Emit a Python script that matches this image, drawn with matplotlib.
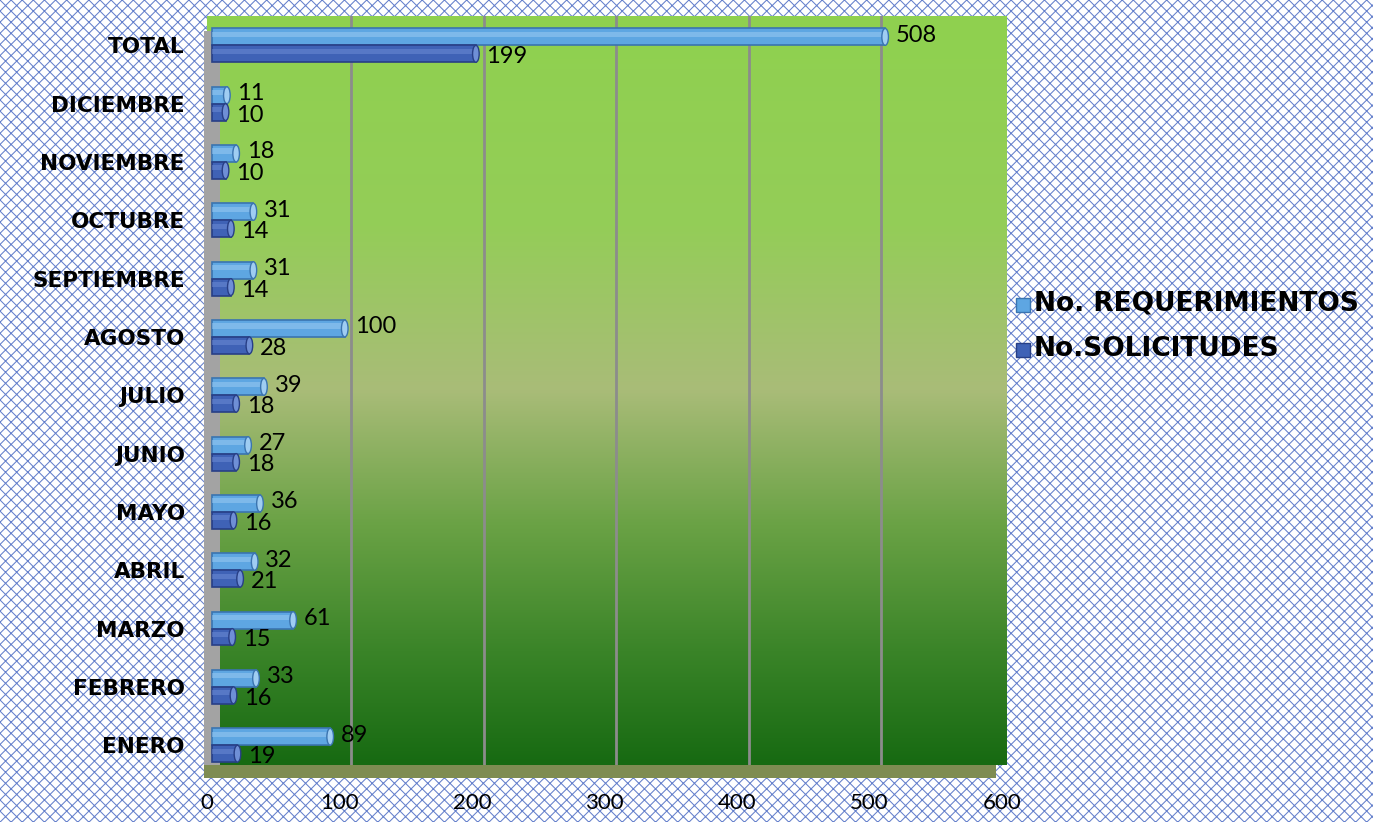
import numpy as np
import matplotlib.pyplot as plt
import matplotlib.transforms as mtransforms
from matplotlib.patches import Rectangle, Ellipse
from matplotlib.colors import LinearSegmentedColormap

months = ['ENERO', 'FEBRERO', 'MARZO', 'ABRIL', 'MAYO', 'JUNIO', 'JULIO',
          'AGOSTO', 'SEPTIEMBRE', 'OCTUBRE', 'NOVIEMBRE', 'DICIEMBRE', 'TOTAL']
requerimientos = [89, 33, 61, 32, 36, 27, 39, 100, 31, 31, 18, 11, 508]
solicitudes = [19, 16, 15, 21, 16, 18, 18, 28, 14, 14, 10, 10, 199]
xticks = [0, 100, 200, 300, 400, 500, 600]

c_req = '#5ea6e2'
c_sol = '#3f62b6'

fig = plt.figure(figsize=(13.73, 8.22), dpi=100)
fig.patch.set_facecolor('white')

# patterned background
plt.rcParams['hatch.linewidth'] = 0.75
bg = Rectangle((0, 0), 1, 1, transform=fig.transFigure, facecolor='white',
               edgecolor='#6580cc', hatch='xxx', linewidth=0, zorder=-10)
fig.patches.append(bg)

ax = fig.add_axes([207 / 1373, 0.0693, 800 / 1373, 0.911])
ax.set_xlim(-4, 600)
ax.set_ylim(-0.34, len(months) - 0.5)

# green gradient wall
cmap = LinearSegmentedColormap.from_list('wall', [
    (0.0, '#8fd14f'), (0.28, '#94cd58'), (0.50, '#a9bc78'),
    (0.68, '#6aa245'), (0.85, '#3a8428'), (1.0, '#176a12')])
grad = np.linspace(0, 1, 256).reshape(-1, 1)
ax.imshow(grad, extent=[0, 1, 0, 1], transform=ax.transAxes, aspect='auto',
          cmap=cmap, zorder=0)

# left side wall and floor
tr = mtransforms.blended_transform_factory(ax.transData, ax.transAxes)
ax.add_patch(Rectangle((-6, -0.0174), 12, 0.998, transform=tr,
                       facecolor='#a3a3a3', edgecolor='none', zorder=1, clip_on=False))
ax.add_patch(Rectangle((-6, -0.0174), 598, 0.0174, transform=tr,
                       facecolor='#7e8c52', edgecolor='none', zorder=1, clip_on=False))

for x in xticks[1:]:
    ax.axvline(x + 5, color='#8c8c8c', linewidth=2, zorder=2)

y = np.arange(len(months))
h = 0.29
off = 0.145

def cylinder(ypos, vals, color, dark, light):
    ax.barh(ypos, vals, height=h, color=color, edgecolor=dark, linewidth=1.2, zorder=4)
    ax.barh(ypos + h * 0.15, vals, height=h * 0.3, color=light, edgecolor='none',
            alpha=0.5, zorder=5)
    for yy, v in zip(ypos, vals):
        ax.add_patch(Ellipse((v, yy), 5, h, facecolor=light, edgecolor=dark,
                             linewidth=1.0, zorder=6))

cylinder(y + off, requerimientos, c_req, '#3a74b0', '#9fcdf2')
cylinder(y - off, solicitudes, c_sol, '#283f86', '#6f8fd6')

for yy, v in zip(y, requerimientos):
    ax.text(v + 8, yy + off + 0.03, str(v), fontsize=17, family='Lato',
            va='center', ha='left', zorder=7)
for yy, v in zip(y, solicitudes):
    ax.text(v + 8, yy - off - 0.05, str(v), fontsize=17, family='Lato',
            va='center', ha='left', zorder=7)

ax.set_yticks(y)
ax.set_yticklabels(months, fontsize=15.5, fontweight='bold', family='DejaVu Sans')
ax.set_xticks([t - 4 for t in xticks])
ax.set_xticklabels([str(t) for t in xticks], fontsize=16, family='Lato')
ax.set_xlim(-4, 600)
ax.tick_params(axis='y', length=0, pad=16)
ax.tick_params(axis='x', length=0, pad=20)
for s in ax.spines.values():
    s.set_visible(False)

# legend
fig.patches.append(Rectangle((1016 / 1373, 1 - 312 / 822), 14 / 1373, 14 / 822,
                             transform=fig.transFigure, facecolor=c_req,
                             edgecolor='#3a74b0', zorder=5))
fig.patches.append(Rectangle((1016 / 1373, 1 - 357 / 822), 14 / 1373, 14 / 822,
                             transform=fig.transFigure, facecolor=c_sol,
                             edgecolor='#283f86', zorder=5))
fig.text(1034 / 1373, 1 - 304 / 822, 'No. REQUERIMIENTOS', fontsize=19,
         fontweight='bold', va='center', ha='left')
fig.text(1034 / 1373, 1 - 349 / 822, 'No.SOLICITUDES', fontsize=19,
         fontweight='bold', va='center', ha='left')

fig.savefig('out.png', dpi=100)
